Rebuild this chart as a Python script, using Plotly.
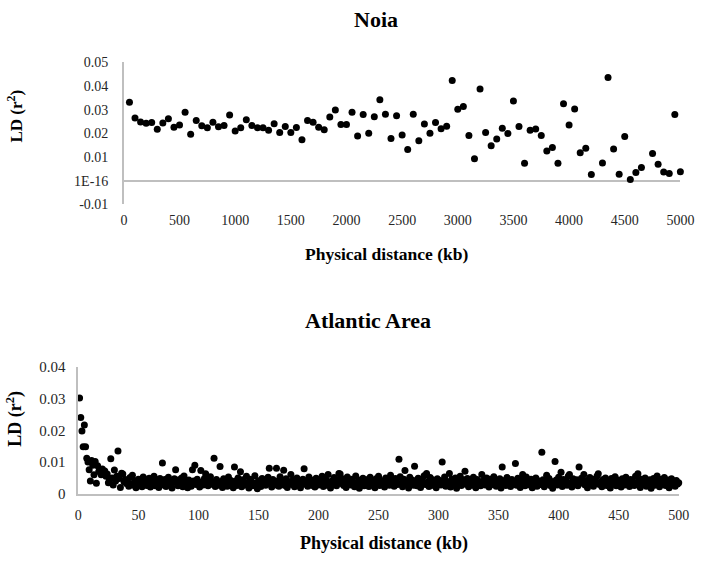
import plotly.graph_objects as go

# ---------------- Data ----------------
# Noia: physical distance (kb) and LD (r^2)
noia_x = [50, 100, 150, 200, 250, 300, 350, 400, 450, 500,
          550, 600, 650, 700, 750, 800, 850, 900, 950, 1000,
          1050, 1100, 1150, 1200, 1250, 1300, 1350, 1400, 1450, 1500,
          1550, 1600, 1650, 1700, 1750, 1800, 1850, 1900, 1950, 2000,
          2050, 2100, 2150, 2200, 2250, 2300, 2350, 2400, 2450, 2500,
          2550, 2600, 2650, 2700, 2750, 2800, 2850, 2900, 2950, 3000,
          3050, 3100, 3150, 3200, 3250, 3300, 3350, 3400, 3450, 3500,
          3550, 3600, 3650, 3700, 3750, 3800, 3850, 3900, 3950, 4000,
          4050, 4100, 4150, 4200, 4300, 4350, 4400, 4450, 4500, 4550,
          4600, 4650, 4750, 4800, 4850, 4900, 4950, 5000]
noia_ld = [0.0331, 0.0265, 0.0248, 0.0243, 0.0246, 0.0217, 0.0244, 0.0262, 0.0226, 0.0235,
           0.0289, 0.0196, 0.0254, 0.0232, 0.0224, 0.0247, 0.0228, 0.0233, 0.0278, 0.0210,
           0.0224, 0.0257, 0.0233, 0.0224, 0.0224, 0.0213, 0.0241, 0.0203, 0.0229, 0.0203,
           0.0225, 0.0173, 0.0254, 0.0247, 0.0226, 0.0215, 0.0269, 0.0299, 0.0237, 0.0237,
           0.0289, 0.0189, 0.0280, 0.0200, 0.0270, 0.0342, 0.0281, 0.0178, 0.0274, 0.0193,
           0.0132, 0.0281, 0.0169, 0.0240, 0.0200, 0.0246, 0.0219, 0.0230, 0.0424, 0.0302,
           0.0314, 0.0191, 0.0092, 0.0387, 0.0204, 0.0147, 0.0176, 0.0222, 0.0199, 0.0337,
           0.0229, 0.0073, 0.0213, 0.0218, 0.0191, 0.0125, 0.0140, 0.0073, 0.0325, 0.0235,
           0.0303, 0.0118, 0.0137, 0.0026, 0.0075, 0.0436, 0.0134, 0.0027, 0.0187, 0.0005,
           0.0034, 0.0055, 0.0115, 0.0069, 0.0036, 0.0030, 0.0280, 0.0038]

# Atlantic Area: physical distance 1..500 kb and LD (r^2)
atl_x = list(range(1, 501))
atl_ld = [
    0.0302, 0.0240, 0.0198, 0.0148, 0.0217, 0.0148, 0.0112, 0.0100, 0.0076, 0.0040,
    0.0105, 0.0090, 0.0060, 0.0102, 0.0033, 0.0088, 0.0070, 0.0075, 0.0060, 0.0078,
    0.0068, 0.0072, 0.0055, 0.0062, 0.0035, 0.0045, 0.0110, 0.0050, 0.0028, 0.0075,
    0.0040, 0.0055, 0.0135, 0.0048, 0.0020, 0.0065, 0.0062, 0.0038, 0.0045, 0.0032,
    0.0036, 0.0024, 0.0051, 0.0030, 0.0058, 0.0027, 0.0041, 0.0019, 0.0034, 0.0046,
    0.0029, 0.0038, 0.0022, 0.0053, 0.0031, 0.0044, 0.0026, 0.0035, 0.0049, 0.0021,
    0.0040, 0.0032, 0.0055, 0.0025, 0.0037, 0.0043, 0.0020, 0.0048, 0.0033, 0.0097,
    0.0028, 0.0045, 0.0023, 0.0039, 0.0052, 0.0030, 0.0042, 0.0018, 0.0036, 0.0047,
    0.0076, 0.0034, 0.0025, 0.0044, 0.0031, 0.0050, 0.0022, 0.0056, 0.0038, 0.0027,
    0.0019, 0.0043, 0.0035, 0.0024, 0.0076, 0.0040, 0.0090, 0.0029, 0.0046, 0.0033,
    0.0021, 0.0073, 0.0037, 0.0028, 0.0048, 0.0063, 0.0032, 0.0025, 0.0041, 0.0054,
    0.0030, 0.0036, 0.0112, 0.0023, 0.0045, 0.0034, 0.0027, 0.0086, 0.0039, 0.0020,
    0.0047, 0.0031, 0.0038, 0.0024, 0.0053, 0.0029, 0.0042, 0.0035, 0.0019, 0.0084,
    0.0040, 0.0026, 0.0050, 0.0033, 0.0069, 0.0022, 0.0044, 0.0037, 0.0028, 0.0055,
    0.0032, 0.0018, 0.0046, 0.0039, 0.0025, 0.0034, 0.0057, 0.0029, 0.0016, 0.0041,
    0.0036, 0.0023, 0.0048, 0.0030, 0.0043, 0.0027, 0.0038, 0.0052, 0.0080, 0.0033,
    0.0021, 0.0045, 0.0035, 0.0028, 0.0080, 0.0040, 0.0024, 0.0054, 0.0031, 0.0037,
    0.0074, 0.0026, 0.0047, 0.0020, 0.0039, 0.0033, 0.0061, 0.0029, 0.0044, 0.0022,
    0.0036, 0.0050, 0.0027, 0.0041, 0.0019, 0.0034, 0.0046, 0.0079, 0.0030, 0.0038,
    0.0024, 0.0053, 0.0032, 0.0043, 0.0026, 0.0037, 0.0021, 0.0049, 0.0035, 0.0028,
    0.0042, 0.0031, 0.0055, 0.0023, 0.0039, 0.0045, 0.0027, 0.0061, 0.0034, 0.0018,
    0.0040, 0.0029, 0.0051, 0.0036, 0.0025, 0.0044, 0.0064, 0.0062, 0.0032, 0.0047,
    0.0026, 0.0038, 0.0020, 0.0053, 0.0033, 0.0041, 0.0028, 0.0046, 0.0035, 0.0022,
    0.0056, 0.0030, 0.0039, 0.0017, 0.0043, 0.0034, 0.0049, 0.0025, 0.0037, 0.0031,
    0.0045, 0.0023, 0.0052, 0.0036, 0.0028, 0.0040, 0.0019, 0.0047, 0.0033, 0.0055,
    0.0026, 0.0042, 0.0030, 0.0038, 0.0021, 0.0050, 0.0035, 0.0044, 0.0027, 0.0058,
    0.0032, 0.0041, 0.0024, 0.0048, 0.0037, 0.0029, 0.0109, 0.0054, 0.0034, 0.0022,
    0.0046, 0.0073, 0.0031, 0.0039, 0.0018, 0.0052, 0.0036, 0.0043, 0.0027, 0.0087,
    0.0040, 0.0025, 0.0049, 0.0033, 0.0020, 0.0045, 0.0035, 0.0057, 0.0029, 0.0064,
    0.0038, 0.0023, 0.0051, 0.0031, 0.0044, 0.0026, 0.0036, 0.0019, 0.0047, 0.0034,
    0.0042, 0.0028, 0.0100, 0.0037, 0.0053, 0.0024, 0.0039, 0.0032, 0.0064, 0.0021,
    0.0046, 0.0035, 0.0029, 0.0050, 0.0017, 0.0041, 0.0033, 0.0055, 0.0026, 0.0038,
    0.0044, 0.0071, 0.0030, 0.0048, 0.0022, 0.0036, 0.0040, 0.0027, 0.0052, 0.0034,
    0.0019, 0.0045, 0.0031, 0.0039, 0.0025, 0.0061, 0.0037, 0.0043, 0.0028, 0.0050,
    0.0033, 0.0021, 0.0046, 0.0036, 0.0029, 0.0054, 0.0040, 0.0024, 0.0038, 0.0031,
    0.0047, 0.0018, 0.0084, 0.0035, 0.0042, 0.0026, 0.0051, 0.0032, 0.0039, 0.0023,
    0.0045, 0.0030, 0.0037, 0.0095, 0.0027, 0.0049, 0.0034, 0.0020, 0.0043, 0.0061,
    0.0036, 0.0025, 0.0053, 0.0032, 0.0040, 0.0028, 0.0046, 0.0019, 0.0038, 0.0033,
    0.0050, 0.0024, 0.0041, 0.0035, 0.0029, 0.0131, 0.0044, 0.0022, 0.0037, 0.0058,
    0.0031, 0.0048, 0.0026, 0.0039, 0.0017, 0.0034, 0.0102, 0.0043, 0.0028, 0.0052,
    0.0036, 0.0068, 0.0023, 0.0045, 0.0032, 0.0040, 0.0027, 0.0055, 0.0061, 0.0035,
    0.0021, 0.0047, 0.0038, 0.0030, 0.0044, 0.0025, 0.0084, 0.0033, 0.0049, 0.0037,
    0.0061, 0.0028, 0.0042, 0.0019, 0.0036, 0.0051, 0.0031, 0.0040, 0.0024, 0.0046,
    0.0034, 0.0056, 0.0063, 0.0029, 0.0038, 0.0022, 0.0045, 0.0033, 0.0050, 0.0026,
    0.0041, 0.0035, 0.0018, 0.0048, 0.0030, 0.0039, 0.0054, 0.0025, 0.0043, 0.0032,
    0.0037, 0.0021, 0.0047, 0.0034, 0.0028, 0.0052, 0.0036, 0.0040, 0.0023, 0.0045,
    0.0031, 0.0038, 0.0026, 0.0055, 0.0033, 0.0063, 0.0042, 0.0020, 0.0046, 0.0035,
    0.0029, 0.0050, 0.0024, 0.0039, 0.0032, 0.0044, 0.0017, 0.0037, 0.0048, 0.0027,
    0.0041, 0.0056, 0.0034, 0.0022, 0.0045, 0.0030, 0.0038, 0.0051, 0.0026, 0.0036,
    0.0043, 0.0019, 0.0033, 0.0047, 0.0028, 0.0039, 0.0024, 0.0042, 0.0031, 0.0035,
]

noia_yticks = [-0.01, 0, 0.01, 0.02, 0.03, 0.04, 0.05]
noia_yticktext = ["-0.01", "1E-16", "0.01", "0.02", "0.03", "0.04", "0.05"]
noia_xticks = [0, 500, 1000, 1500, 2000, 2500, 3000, 3500, 4000, 4500, 5000]
atl_yticks = [0, 0.01, 0.02, 0.03, 0.04]
atl_yticktext = ["0", "0.01", "0.02", "0.03", "0.04"]
atl_xticks = [0, 50, 100, 150, 200, 250, 300, 350, 400, 450, 500]

# ---------------- Figure ----------------
W, H = 709, 562
FONT = "Liberation Serif"
AXIS_GRAY = "#bfbfbf"
TXT = "#262626"

def px_x(p):
    return p / W

def px_y(p):
    return 1 - p / H

fig = go.Figure()
fig.add_trace(go.Scatter(x=noia_x, y=noia_ld, mode="markers",
                         marker=dict(color="black", size=7),
                         xaxis="x", yaxis="y", showlegend=False,
                         cliponaxis=False))
fig.add_trace(go.Scatter(x=atl_x, y=atl_ld, mode="markers",
                         marker=dict(color="black", size=7),
                         xaxis="x2", yaxis="y2", showlegend=False,
                         cliponaxis=False))

tickfont = dict(family=FONT, size=14, color=TXT)
tickfont_b = dict(family=FONT, size=15, color=TXT)

fig.update_layout(
    width=W, height=H,
    margin=dict(l=0, r=0, t=0, b=0),
    paper_bgcolor="white", plot_bgcolor="white",
    font=dict(family=FONT),
    xaxis=dict(domain=[px_x(123), px_x(694)], range=[0, 5000],
               tickvals=noia_xticks, showgrid=False, zeroline=False,
               showline=False, ticks="", tickfont=tickfont,
               ticklabelstandoff=6, anchor="y"),
    yaxis=dict(domain=[px_y(202), px_y(56)], range=[-0.01, 0.05],
               tickvals=noia_yticks, ticktext=noia_yticktext,
               showgrid=False, zeroline=True, zerolinecolor=AXIS_GRAY,
               zerolinewidth=1.5, showline=True, linecolor=AXIS_GRAY,
               linewidth=1.5, ticks="", tickfont=tickfont,
               ticklabelstandoff=11, anchor="x"),
    xaxis2=dict(domain=[px_x(76.3), px_x(692.3)], range=[0, 500],
                tickvals=atl_xticks, showgrid=False, zeroline=False,
                showline=True, linecolor=AXIS_GRAY, linewidth=1.5,
                ticks="", tickfont=tickfont, ticklabelstandoff=8,
                anchor="y2"),
    yaxis2=dict(domain=[px_y(500), px_y(369.3)], range=[0, 0.04],
                tickvals=atl_yticks, ticktext=atl_yticktext,
                showgrid=False, zeroline=False, showline=True,
                linecolor=AXIS_GRAY, linewidth=1.5, ticks="",
                tickfont=tickfont_b, ticklabelstandoff=8, anchor="x2"),
)

annotations = [
    dict(text="<b>Noia</b>", x=px_x(382), y=px_y(12),
         font=dict(family=FONT, size=22, color="black")),
    dict(text="<b>Atlantic Area</b>", x=px_x(373), y=px_y(322),
         font=dict(family=FONT, size=22, color="black")),
    dict(text="<b>Physical distance (kb)</b>", x=px_x(393), y=px_y(253),
         font=dict(family=FONT, size=17.5, color="black")),
    dict(text="<b>Physical distance (kb)</b>", x=px_x(390), y=px_y(551),
         font=dict(family=FONT, size=18, color="black")),
    dict(text="<b>LD (r<sup>2</sup>)</b>", x=px_x(11), y=px_y(111),
         font=dict(family=FONT, size=17, color="black"), textangle=-90),
    dict(text="<b>LD (r<sup>2</sup>)</b>", x=px_x(11), y=px_y(423),
         font=dict(family=FONT, size=18, color="black"), textangle=-90),
]
for a in annotations:
    a.update(xref="paper", yref="paper", showarrow=False,
             xanchor="center", yanchor="middle")
fig.update_layout(annotations=annotations)

# Remove the browser's default page margin so the figure fills the window.
fig.write_html(
    "out.html",
    config={"displayModeBar": False},
    post_script="document.body.style.margin='0';"
                "document.body.style.overflow='hidden';",
)
